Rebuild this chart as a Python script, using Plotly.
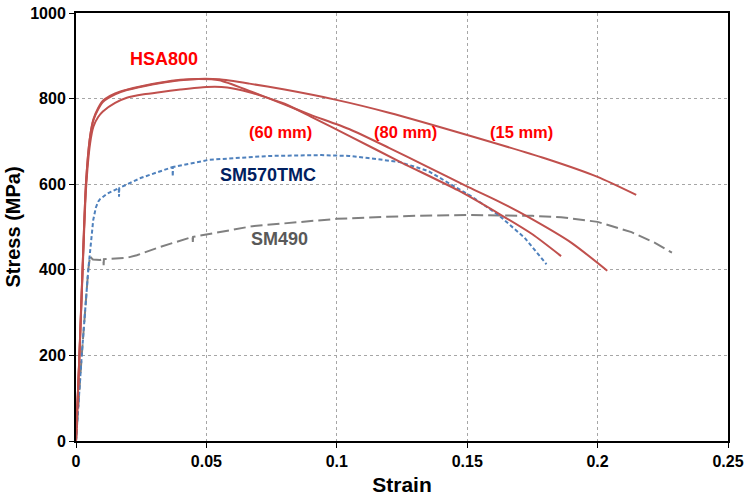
import plotly.graph_objects as go

# HSA800 curves (strain, stress MPa)
hsa_15_strain = [0, 0.0013, 0.0025, 0.0038, 0.0054, 0.0067, 0.0085, 0.0103, 0.015, 0.0195, 0.026, 0.032, 0.04, 0.047, 0.055,
                 0.0665, 0.08, 0.0998, 0.12, 0.15, 0.18, 0.2, 0.2148]
hsa_15_stress = [0, 200, 400, 600, 711, 750, 775, 792, 810, 820, 829, 836, 843, 846, 845,
                 835, 821, 797, 767, 715, 660, 617, 575]

hsa_80_strain = [0, 0.0013, 0.0025, 0.0038, 0.0054, 0.0067, 0.0085, 0.0103, 0.015, 0.0195, 0.026, 0.032, 0.04, 0.047, 0.055,
                 0.0665, 0.08, 0.09, 0.1047, 0.12, 0.135, 0.1495, 0.162, 0.1735, 0.19, 0.2037]
hsa_80_stress = [0, 200, 400, 600, 711, 752, 778, 795, 812, 821, 830, 837, 844, 846, 843,
                 818, 786, 762, 729, 685, 640, 596, 560, 523, 463, 398]

hsa_60_strain = [0, 0.0013, 0.0025, 0.0038, 0.0054, 0.0067, 0.0085, 0.0103, 0.015, 0.0195, 0.026, 0.032, 0.04, 0.05, 0.058,
                 0.0665, 0.08, 0.09, 0.1047, 0.125, 0.1464, 0.163, 0.175, 0.186]
hsa_60_stress = [0, 195, 390, 585, 695, 735, 757, 770, 790, 802, 810, 815, 821, 827, 826,
                 815, 788, 758, 713, 650, 586, 528, 483, 432]

# SM570TMC
sm570_strain = [0, 0.0022, 0.0047, 0.0066, 0.0076, 0.0085, 0.0092, 0.012, 0.0164, 0.0165, 0.0166, 0.025, 0.037, 0.0371,
                0.0372, 0.051, 0.074, 0.094, 0.1047, 0.112, 0.124, 0.135, 0.143, 0.152, 0.162, 0.172, 0.1804]
sm570_stress = [0, 200, 400, 516, 545, 559, 565, 578, 591, 571, 591, 615, 640, 618,
                640, 657, 666, 668, 666, 661, 652, 631, 603, 570, 528, 475, 413]

# SM490
sm490_strain = [0, 0.0022, 0.0047, 0.0051, 0.0054, 0.0058, 0.0065, 0.0092, 0.0105, 0.0106, 0.0107, 0.0195, 0.0233, 0.032,
                0.0447, 0.0448, 0.0449, 0.0677, 0.0998, 0.1147, 0.13, 0.1495, 0.175, 0.186, 0.2, 0.213, 0.222, 0.2285]
sm490_stress = [0, 200, 400, 427, 433, 428, 424, 423, 425, 411, 425, 428, 434, 453,
                477, 465, 477, 502, 519, 523, 526, 528, 526, 523, 512, 488, 463, 440]

# Axis ticks
x_ticks = [0, 0.05, 0.1, 0.15, 0.2, 0.25]
x_tick_labels = ["0", "0.05", "0.1", "0.15", "0.2", "0.25"]
y_ticks = [0, 200, 400, 600, 800, 1000]
y_tick_labels = ["0", "200", "400", "600", "800", "1000"]

# Label texts
label_texts = ["HSA800", "(60 mm)", "(80 mm)", "(15 mm)", "SM570TMC", "SM490"]
label_x = [0.0338, 0.0786, 0.1262, 0.1709, 0.0736, 0.0780]
label_y = [893, 723, 723, 722, 621, 473]
label_colors = ["#FF0000", "#FF0000", "#FF0000", "#FF0000", "#002060", "#595959"]
label_sizes = [18, 16.5, 16.5, 16.5, 18, 18]

FONT = "Liberation Sans, Arial, sans-serif"
red = "#C0504D"

fig = go.Figure()
fig.add_trace(go.Scatter(x=sm490_strain, y=sm490_stress, mode="lines",
                         line=dict(color="#808080", width=2, dash="12px,5px"), name="SM490"))
fig.add_trace(go.Scatter(x=sm570_strain, y=sm570_stress, mode="lines",
                         line=dict(color="#4F81BD", width=2, dash="4px,2.5px"), name="SM570TMC"))
for sx, sy, nm in [(hsa_60_strain, hsa_60_stress, "60 mm"), (hsa_80_strain, hsa_80_stress, "80 mm"),
                   (hsa_15_strain, hsa_15_stress, "15 mm")]:
    fig.add_trace(go.Scatter(x=sx, y=sy, mode="lines", line=dict(color=red, width=2, shape="spline", smoothing=0.6),
                             name=nm))

for t, x, y, c, s in zip(label_texts, label_x, label_y, label_colors, label_sizes):
    fig.add_annotation(x=x, y=y, text=t, showarrow=False, xanchor="center", yanchor="middle",
                       font=dict(family=FONT, size=s, color=c, weight="bold"))

axis_common = dict(showline=True, linecolor="black", linewidth=2, mirror=True, automargin=False,
                   showgrid=True, gridcolor="#A6A6A6", griddash="dot", gridwidth=1,
                   ticks="outside", ticklen=5, tickcolor="black", zeroline=False,
                   ticklabeloverflow="allow",
                   tickfont=dict(family=FONT, size=16, color="black", weight="bold"))

fig.update_xaxes(range=[0, 0.25], tickvals=x_ticks, ticktext=x_tick_labels,
                 title=dict(text="Strain", font=dict(family=FONT, size=21, color="black", weight="bold"), standoff=8),
                 **axis_common)
fig.update_yaxes(range=[0, 1000], tickvals=y_ticks, ticktext=y_tick_labels,
                 title=dict(text="Stress (MPa)", font=dict(family=FONT, size=20, color="black", weight="bold"), standoff=4),
                 **axis_common)

fig.update_layout(width=745, height=496, margin=dict(l=76, r=17, t=13, b=55),
                  paper_bgcolor="white", plot_bgcolor="white", showlegend=False,
                  font=dict(family=FONT))

fig.write_html("out.html", config={"displayModeBar": False},
               post_script="document.body.style.margin='0px';document.body.style.padding='0px';")
